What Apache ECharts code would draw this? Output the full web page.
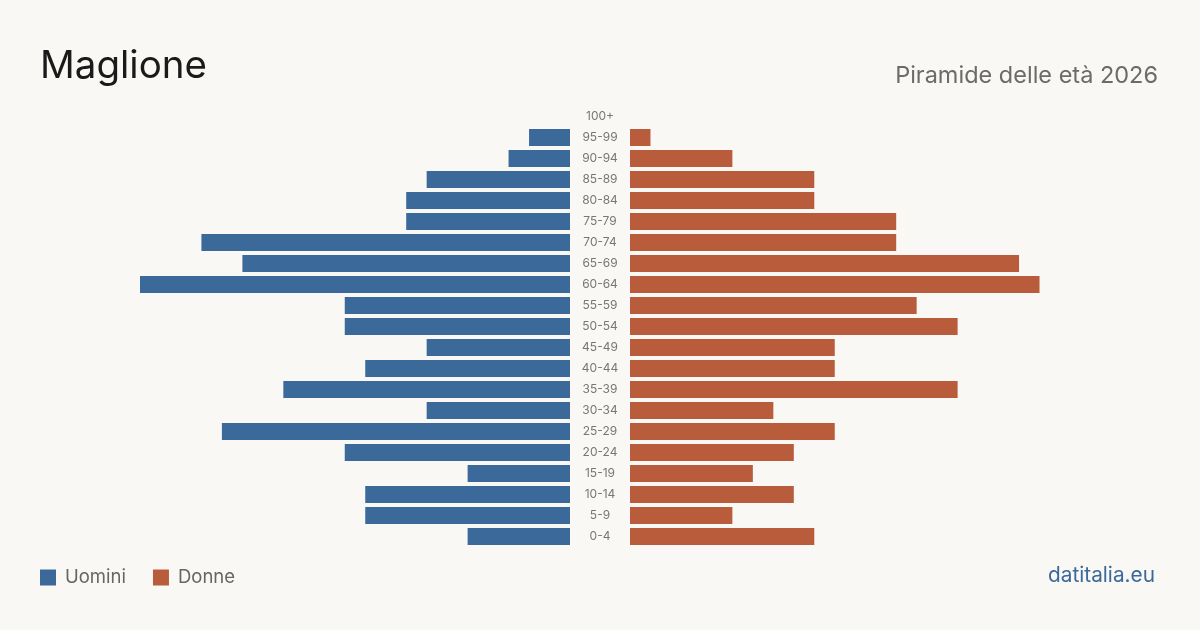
<!DOCTYPE html>
<html>
<head>
<meta charset="utf-8">
<script src="https://cdn.jsdelivr.net/npm/echarts@6/dist/echarts.min.js"></script>
<style>
  html, body { margin: 0; padding: 0; background: #f9f8f4; }
  #chart { width: 1200px; height: 630px; }
</style>
</head>
<body>
<div id="chart"></div>
<script>
  // fasce d'età dal basso verso l'alto
  const ageGroups = ["0-4", "5-9", "10-14", "15-19", "20-24", "25-29", "30-34", "35-39", "40-44", "45-49",
    "50-54", "55-59", "60-64", "65-69", "70-74", "75-79", "80-84", "85-89", "90-94", "95-99", "100+"];
  const uomini = [5, 10, 10, 5, 11, 17, 7, 14, 10, 7, 11, 11, 21, 16, 18, 8, 8, 7, 3, 2, 0];
  const donne = [9, 5, 8, 6, 8, 10, 7, 16, 10, 10, 16, 14, 20, 19, 13, 13, 9, 9, 5, 1, 0];
  const maxValue = 21;

  const blue = "#3b6a9a";
  const orange = "#b85c3c";
  const font = "Inter";

  const chart = echarts.init(document.getElementById("chart"));
  const option = {
    backgroundColor: "#f9f8f4",
    textStyle: { fontFamily: font },
    animation: false,
    graphic: [
      {
        type: "text", left: 40, top: 47,
        style: { text: "Maglione", fontSize: 38.5, fontFamily: font, fill: "#1a1a1a" }
      },
      {
        type: "text", right: 42, top: 64,
        style: { text: "Piramide delle età 2026", fontSize: 23.5, fontFamily: font, fill: "#6b6b6b" }
      },
      {
        type: "text", right: 45, top: 565,
        style: { text: "datitalia.eu", fontSize: 20.8, fontFamily: font, fill: blue }
      }
    ],
    legend: {
      left: 40, top: 568, padding: 0,
      itemWidth: 16, itemHeight: 16, itemGap: 27,
      icon: "rect",
      textStyle: { fontSize: 18.5, color: "#666", fontFamily: font, padding: [0, 0, 0, 4] },
      data: ["Uomini", "Donne"]
    },
    grid: [
      { left: 140, width: 430, top: 106, height: 441 },
      { left: 630, width: 430, top: 106, height: 441 }
    ],
    xAxis: [
      { gridIndex: 0, type: "value", min: 0, max: maxValue, inverse: true, show: false },
      { gridIndex: 1, type: "value", min: 0, max: maxValue, show: false }
    ],
    yAxis: [
      {
        gridIndex: 0, type: "category", data: ageGroups, position: "right",
        axisLine: { show: false }, axisTick: { show: false },
        axisLabel: { align: "center", margin: 30, fontSize: 12, color: "#777", fontFamily: font, padding: [6, 0, 0, 0] }
      },
      {
        gridIndex: 1, type: "category", data: ageGroups, show: false
      }
    ],
    series: [
      {
        name: "Uomini", type: "bar", xAxisIndex: 0, yAxisIndex: 0,
        data: uomini, barCategoryGap: "19%", itemStyle: { color: blue }
      },
      {
        name: "Donne", type: "bar", xAxisIndex: 1, yAxisIndex: 1,
        data: donne, barCategoryGap: "19%", itemStyle: { color: orange }
      }
    ]
  };
  chart.setOption(option);
</script>
</body>
</html>
